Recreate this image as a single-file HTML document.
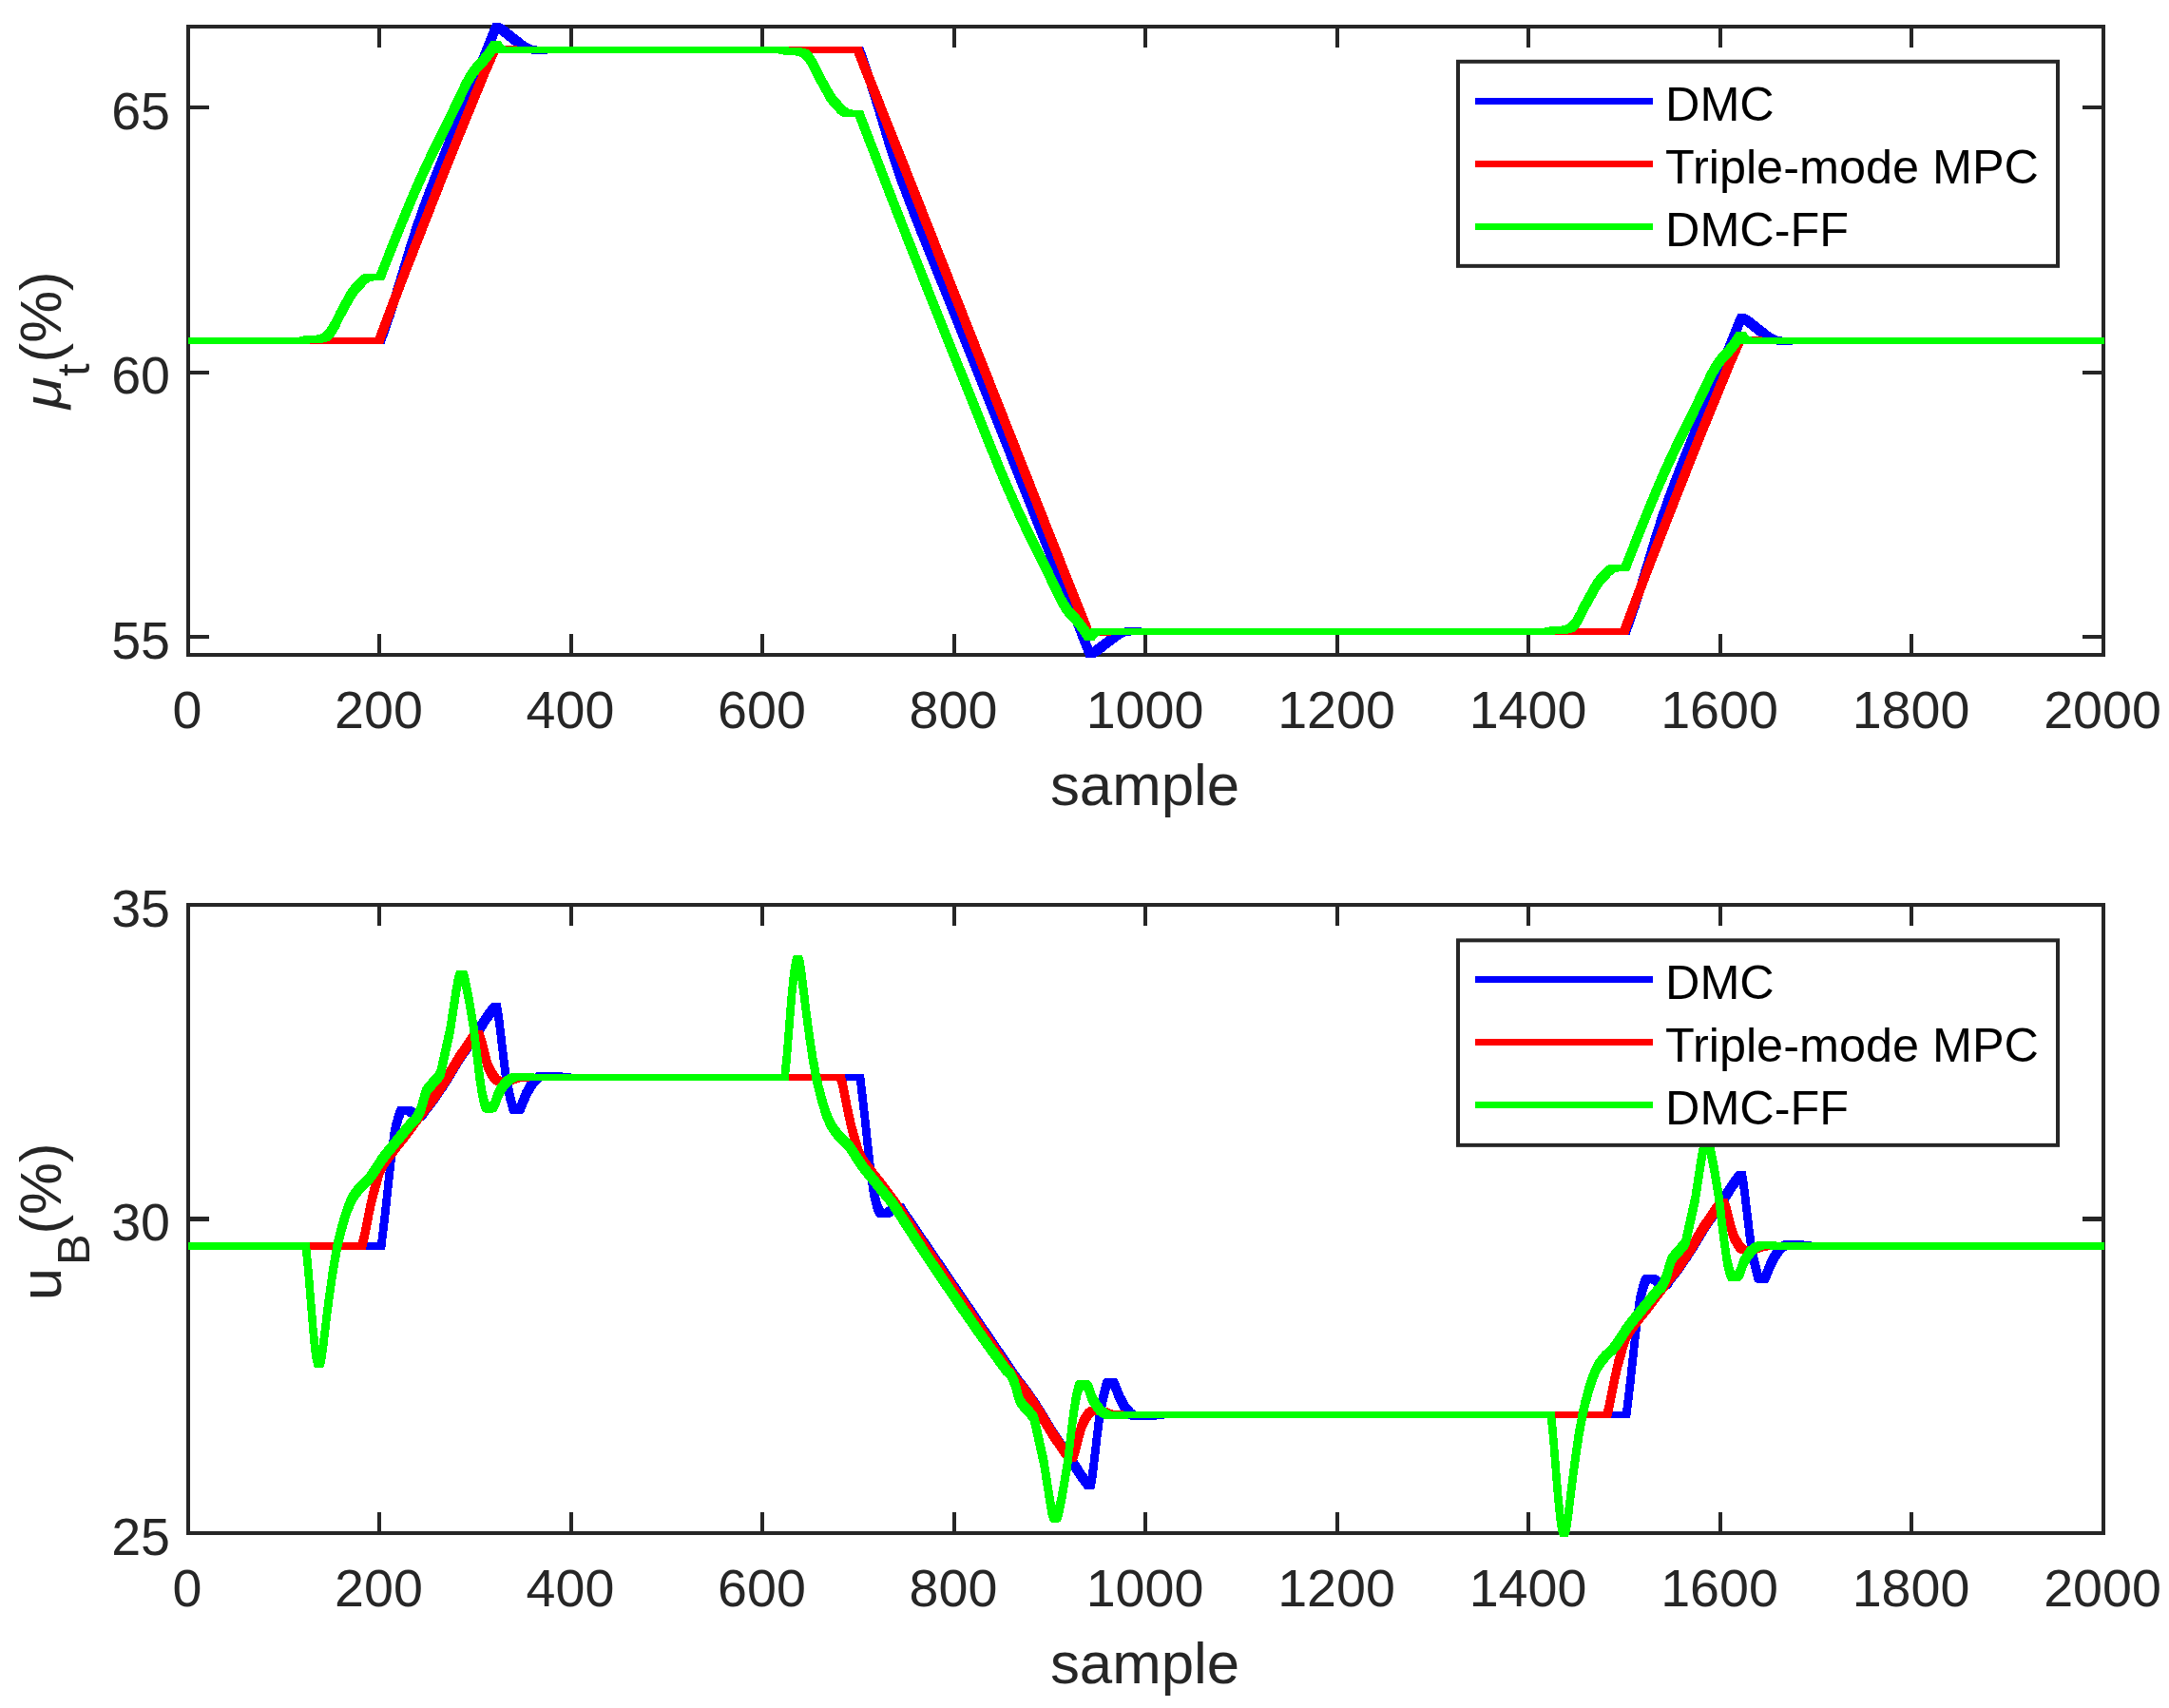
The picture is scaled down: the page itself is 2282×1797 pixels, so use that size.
<!DOCTYPE html>
<html lang="en"><head><meta charset="utf-8"><title>DMC vs Triple-mode MPC vs DMC-FF</title>
<style>html,body{margin:0;padding:0;background:#fff}body{width:2282px;height:1797px;overflow:hidden}svg{display:block}text{font-family:"Liberation Sans",sans-serif}</style></head><body>
<svg width="2282" height="1797" viewBox="0 0 2282 1797">
<rect width="2282" height="1797" fill="#fff"/>
<!-- top axes -->
<g stroke="#262626" stroke-width="4" fill="none" shape-rendering="crispEdges">
<rect x="198" y="28" width="2015" height="661"/>
<path d="M399,689 v-22 M399,28 v22"/>
<path d="M601,689 v-22 M601,28 v22"/>
<path d="M802,689 v-22 M802,28 v22"/>
<path d="M1004,689 v-22 M1004,28 v22"/>
<path d="M1205,689 v-22 M1205,28 v22"/>
<path d="M1407,689 v-22 M1407,28 v22"/>
<path d="M1608,689 v-22 M1608,28 v22"/>
<path d="M1810,689 v-22 M1810,28 v22"/>
<path d="M2011,689 v-22 M2011,28 v22"/>
<path d="M198,670 h22 M2213,670 h-22"/>
<path d="M198,392 h22 M2213,392 h-22"/>
<path d="M198,113 h22 M2213,113 h-22"/>
</g>
<g font-size="55.6" fill="#262626">
<g text-anchor="middle">
<text x="197.0" y="766">0</text>
<text x="398.5" y="766">200</text>
<text x="600.0" y="766">400</text>
<text x="801.5" y="766">600</text>
<text x="1003.0" y="766">800</text>
<text x="1204.5" y="766">1000</text>
<text x="1406.0" y="766">1200</text>
<text x="1607.5" y="766">1400</text>
<text x="1809.0" y="766">1600</text>
<text x="2010.5" y="766">1800</text>
<text x="2212.0" y="766">2000</text>
</g><g text-anchor="end">
<text x="179" y="692.5">55</text>
<text x="179" y="414.0">60</text>
<text x="179" y="135.5">65</text>
</g></g>
<text x="1204.5" y="847" font-size="61.8" fill="#262626" text-anchor="middle">sample</text>
<g transform="translate(64,0) rotate(-90)" fill="#262626">
<text transform="translate(-430.28,0) scale(1,0.87)" font-size="61.8" font-style="italic">μ</text>
<text x="-396.05" y="29.5" font-size="49">t</text>
<text x="-381.45" y="0" font-size="61.8">(%)</text>
</g>
<g shape-rendering="crispEdges">
<path fill="#0000ff" d="M198,354.6 396.2,354.6 401,341.7 406.8,324.9 414,301.8 429,252.2 435.5,232.4 442.2,213.4 453.5,183.8 465.5,153.6 518,24.3 518.2,24.1 526.2,24.1 526.8,24.3 530,26.1 533.2,28.2 551.2,42.4 556.8,46.1 558.5,47 560,47.6 567.2,48.8 569.2,48.6 908,48.6 913.5,63.7 919.2,80.7 926.2,103 938.5,143.8 945.2,164.8 952.5,185.7 960.8,207.7 972.5,237.7 1001.5,309.5 1063.8,465.4 1149.2,680.8 1151.2,679.5 1168,666.6 1174,662.7 1175.8,661.9 1177.5,661.4 1187.8,659.8 1196.8,659.8 1201.8,660.6 1706.2,660.6 1711,647.7 1716.8,630.9 1724,607.8 1739,558.2 1745.5,538.4 1752.2,519.4 1763.5,489.8 1775.5,459.6 1828,330.3 1828.2,330.1 1836.2,330.1 1836.8,330.3 1840,332.1 1843.2,334.2 1861.2,348.4 1866.8,352.1 1868.5,353 1870,353.6 1877.2,354.8 1879.2,354.6 2214,354.6 2214,362.4 1887.2,362.4 1882,363.2 1873,363.2 1863,361.6 1861.2,361.2 1859.5,360.3 1853.2,356.2 1834.8,341.7 1834.5,341.8 1783.5,467.4 1771.2,498.2 1760,527.8 1753.2,546.9 1746.8,566.8 1732,615.6 1724.8,638.7 1719,655.5 1714.2,668.4 1193.8,668.4 1192,668.2 1184.8,669.4 1183.2,669.9 1181.5,670.8 1175.8,674.6 1158,688.2 1154.8,690.3 1151.5,692.1 1150.8,692.4 1142.8,692.4 1056.8,475.7 993.5,317.3 964.5,245.5 952.8,215.5 944.5,193.5 937.2,172.6 930.5,151.6 918.2,110.8 911.2,88.5 905.5,71.5 900,56.4 577.2,56.4 572,57.2 563,57.2 553,55.6 551.2,55.2 549.5,54.3 543.2,50.2 524.8,35.7 524.5,35.8 473.5,161.4 461.2,192.2 450,221.8 443.2,240.9 436.8,260.8 422,309.6 414.8,332.7 409,349.5 404.2,362.4 198,362.4Z"/>
<path fill="#ff0000" d="M198,354.6 394.8,354.6 406.8,322.5 421.5,283.9 455.8,196.2 491,108.4 502.8,79.8 515.8,49 516,48.6 530.5,48.6 532.5,47.8 542.5,47.8 544.5,48.6 906.5,48.6 961.8,187.8 1112.5,569.8 1148.5,660.5 1148.8,660.6 1704.8,660.6 1716.8,628.5 1732.2,588 1767,499 1785.2,453.3 1803.8,407.7 1815.2,379.8 1826,354.6 1840.5,354.6 1842.5,353.8 1852.5,353.8 1854.5,354.6 2214,354.6 2214,362.4 1834,362.4 1823.2,387.6 1811.8,415.5 1793.2,461.1 1775,506.8 1740.2,595.8 1724.8,636.3 1712.8,668.4 1169.2,668.4 1168.8,668.4 1167,669.2 1157.2,669.2 1156.8,669.2 1155,668.4 1140.8,668.4 1140.5,668.3 1082.8,522.6 946.5,177.3 898.5,56.4 524,56.4 513.2,81.6 501.8,109.5 483.2,155.1 465,200.8 430.2,289.8 414.8,330.3 402.8,362.4 198,362.4Z"/>
<path fill="#00ff00" d="M198,354.6 315,354.6 317.2,353.8 318.8,353.5 330.2,352.9 334,352.4 336,351.9 338.2,351 339.5,350.3 340.8,349.2 343.8,345.7 346.2,341.7 348.8,337.2 353.5,327.5 362.5,311 366,304.9 368,302.2 376.5,292.6 377.8,291.3 380.2,289.3 381.2,288.7 383.5,288 385.8,287.6 396,287.6 407.8,257.7 420.5,226.1 428.8,206.3 437.2,186.8 450.5,158.1 471.2,116.3 485.8,85.8 490.2,77.5 494.8,70.7 497.8,66.9 502.8,61.9 507,56.8 511.8,50.5 517,42.6 526.5,42.6 527,43.1 528.2,45.4 530,47.5 531,48.1 532.8,48.6 826.8,48.6 829,49.4 830.5,49.7 842,50.3 845.8,50.8 847.8,51.3 850,52.2 851.2,52.9 852.5,54 855.5,57.5 858,61.5 860.5,66 865.2,75.7 874.2,92.2 877.8,98.3 879.8,101 888.2,110.6 889.5,111.9 892,113.9 893,114.5 895.2,115.2 897.5,115.6 907.8,115.6 946.2,215 988.2,321.5 1049.5,474.1 1058.5,496 1066.5,514.7 1074.8,533.2 1082.5,549.7 1089.5,564.1 1103.5,592 1117.5,621.6 1120.2,627 1124,633.5 1128,639.3 1130.5,642.4 1135,646.9 1137.5,649.7 1142.5,656.1 1146.5,661.8 1147.5,661.1 1149.5,660.6 1625,660.6 1627,659.8 1628.2,659.6 1641.2,658.8 1645.2,658.1 1647.8,657.2 1649.8,656.1 1651.5,654.5 1654,651.4 1658,644.6 1663.2,634 1675.8,611.3 1678,608.2 1687,598.1 1690.5,595.1 1691.5,594.6 1694,593.8 1695.8,593.6 1706,593.6 1717.8,563.7 1730.5,532.1 1738.8,512.3 1747.2,492.8 1760.5,464.1 1781.2,422.3 1795.8,391.8 1800.2,383.5 1804.8,376.7 1807.8,372.9 1812.8,367.9 1817,362.8 1821.8,356.5 1827,348.6 1836.5,348.6 1837,349.1 1838.2,351.4 1840,353.5 1841.2,354.2 1843,354.6 2214,354.6 2214,362.4 1835,362.4 1833.5,362.1 1832,361.3 1831.8,361.3 1828,366.7 1823,373.1 1820.5,376 1815.8,380.7 1812.8,384.5 1808.2,391.3 1803.5,400.1 1789.2,430.1 1768.5,471.9 1755.2,500.6 1746.8,520.1 1738.5,539.9 1725.8,571.5 1714,601.4 1703.8,601.4 1702,601.6 1699.5,602.4 1698.5,602.9 1695,605.9 1686,616 1683.8,619.1 1671.2,641.8 1666,652.4 1662,659.2 1659.5,662.3 1657.8,663.9 1655.8,665 1653.2,665.9 1649.2,666.6 1636.2,667.4 1635,667.6 1633,668.4 1157.5,668.4 1155.8,668.8 1154.8,669.4 1153,671.5 1151.8,673.7 1151.2,674.3 1141.8,674.4 1141.5,674.3 1136,666 1131,659.4 1127.2,654.9 1122.5,650.2 1120,647.1 1116.2,641.7 1112.8,635.7 1109.8,629.9 1095.2,599.3 1075.2,559.1 1067.5,542.6 1059.5,524.8 1051,505 1042.2,483.7 982,333.7 939.2,225.4 899.8,123.4 889.5,123.4 887.8,123.2 885.2,122.4 884.2,121.9 880.8,118.9 871.8,108.8 869.5,105.7 857,83 851.8,72.4 847.8,65.6 845.5,62.8 843.8,61.1 842.2,60.1 839.5,59 837.5,58.5 835.2,58.2 822,57.4 820.8,57.2 818.8,56.4 525,56.4 523.5,56.1 522,55.3 521.8,55.3 518,60.7 513,67.1 510.5,70 505.8,74.7 502.8,78.5 498.2,85.3 493.5,94.1 479.2,124.1 458.5,165.9 445.2,194.6 436.8,214.1 428.5,233.9 415.8,265.5 404,295.4 393.8,295.4 391.5,295.8 389.2,296.5 388.2,297.1 385.8,299.1 384.5,300.4 376,310 374,312.7 370.5,318.8 361.5,335.3 356.8,345 354.2,349.5 351.5,353.9 348.5,357.3 347.2,358.3 345.8,359 342,360.2 338.2,360.7 326.8,361.3 325.2,361.6 323,362.4 198,362.4Z"/>
</g>
<g>
<rect x="1534" y="64.8" width="631" height="215.05" fill="#fff" stroke="#262626" stroke-width="4"/>
<rect x="1552" y="103" width="187" height="7" fill="#0000ff" shape-rendering="crispEdges"/>
<text x="1752" y="127" font-size="50.4" fill="#000">DMC</text>
<rect x="1552" y="169" width="187" height="7" fill="#ff0000" shape-rendering="crispEdges"/>
<text x="1752" y="193" font-size="50.4" fill="#000">Triple-mode MPC</text>
<rect x="1552" y="235" width="187" height="7" fill="#00ff00" shape-rendering="crispEdges"/>
<text x="1752" y="259" font-size="50.4" fill="#000">DMC-FF</text>
</g>
<!-- bottom axes -->
<g stroke="#262626" stroke-width="4" fill="none" shape-rendering="crispEdges">
<rect x="198" y="952" width="2015" height="661"/>
<path d="M399,1613 v-22 M399,952 v22"/>
<path d="M601,1613 v-22 M601,952 v22"/>
<path d="M802,1613 v-22 M802,952 v22"/>
<path d="M1004,1613 v-22 M1004,952 v22"/>
<path d="M1205,1613 v-22 M1205,952 v22"/>
<path d="M1407,1613 v-22 M1407,952 v22"/>
<path d="M1608,1613 v-22 M1608,952 v22"/>
<path d="M1810,1613 v-22 M1810,952 v22"/>
<path d="M2011,1613 v-22 M2011,952 v22"/>
<path stroke-width="5" d="M198,1282.5 h22 M2213,1282.5 h-22"/>
</g>
<g font-size="55.6" fill="#262626">
<g text-anchor="middle">
<text x="197.0" y="1690">0</text>
<text x="398.5" y="1690">200</text>
<text x="600.0" y="1690">400</text>
<text x="801.5" y="1690">600</text>
<text x="1003.0" y="1690">800</text>
<text x="1204.5" y="1690">1000</text>
<text x="1406.0" y="1690">1200</text>
<text x="1607.5" y="1690">1400</text>
<text x="1809.0" y="1690">1600</text>
<text x="2010.5" y="1690">1800</text>
<text x="2212.0" y="1690">2000</text>
</g><g text-anchor="end">
<text x="179" y="1635.5">25</text>
<text x="179" y="1305.0">30</text>
<text x="179" y="974.5">35</text>
</g></g>
<text x="1204.5" y="1771" font-size="61.8" fill="#262626" text-anchor="middle">sample</text>
<g transform="translate(64,0) rotate(-90)" fill="#262626">
<text x="-1368.19" y="0" font-size="61.8">u</text>
<text x="-1331.01" y="29.5" font-size="49">B</text>
<text x="-1298.55" y="0" font-size="61.8">(%)</text>
</g>
<g shape-rendering="crispEdges">
<path fill="#0000ff" d="M198,1307.1 397,1307.1 397.2,1306.7 401.2,1273.2 406.8,1221.1 410.2,1193.5 411.2,1187.1 412.8,1180.3 415.2,1171.4 417.2,1166.1 418.5,1164.4 419.8,1163.5 432,1163.5 433,1163.8 434,1164.3 440.2,1168.8 442,1165.6 450,1155.4 461.2,1139.2 468,1128.5 478.2,1111.2 497,1084 509,1065.4 514,1058.5 516,1056.2 517.8,1054.6 525.8,1054.6 526.5,1054.9 526.8,1055.9 528,1062.2 529.2,1070.4 534,1111.1 536.2,1128.4 537.8,1136.8 540.2,1148.6 543.2,1160.5 543.5,1161.3 543.8,1161.4 546,1156.3 547.8,1151.4 549.5,1147.3 555,1137.5 557.5,1134.1 560,1131.6 564,1128.7 565.8,1127.9 587,1127.9 601.5,1129.6 908.8,1129.6 909,1130 913.2,1165.6 919,1220 922.2,1244.9 923.5,1252.1 925,1258.3 927.2,1266.1 929.2,1271.1 930,1272.1 930.2,1272 933.2,1269.9 938,1266.1 939,1265.6 949.5,1265.6 950.5,1266.1 951.5,1267.2 953.8,1271.1 1074.5,1448.4 1082.2,1458.2 1092.5,1472.9 1099.5,1483.8 1111.2,1503.5 1129.5,1530 1140,1546.3 1144.5,1552.9 1146,1543 1152,1492.2 1153.8,1480.8 1157,1465.1 1160,1453.4 1161,1450.9 1162,1450.2 1163.2,1449.7 1172.5,1449.7 1174.2,1449.9 1175,1450.5 1176.2,1452.5 1178.5,1457.5 1180.5,1463 1182.2,1467.1 1187.5,1476.5 1190,1479.9 1192.5,1482.5 1194.2,1483.9 1196.8,1485.6 1198.5,1486.3 1205,1486.2 1218,1484.6 1707,1484.6 1707.2,1484.2 1711.2,1450.7 1716.8,1398.6 1720.2,1371 1721.2,1364.6 1722.8,1357.8 1725.2,1348.9 1727.2,1343.6 1728.5,1341.9 1729.8,1341 1742,1341 1743,1341.3 1744,1341.8 1750.2,1346.3 1752,1343.1 1760,1332.9 1771.2,1316.7 1778,1306 1788.2,1288.7 1807,1261.5 1819,1242.9 1824,1236 1826,1233.7 1827.8,1232.1 1835.8,1232.1 1836.5,1232.4 1836.8,1233.4 1838,1239.7 1839.2,1247.9 1844,1288.6 1846.2,1305.9 1847.8,1314.3 1850.2,1326.1 1853.2,1338 1853.5,1338.8 1853.8,1338.9 1856,1333.8 1857.8,1328.9 1859.5,1324.8 1865,1315 1867.5,1311.6 1870,1309.1 1874,1306.2 1875.8,1305.4 1897,1305.4 1911.5,1307.1 2214,1307.1 2214,1314.9 1903.5,1314.9 1901,1314.7 1890.2,1313.3 1883.8,1313.2 1882,1314 1879.5,1315.6 1877.8,1317.1 1875.2,1319.7 1872.8,1323.1 1867.5,1332.6 1862.2,1345.6 1861.2,1347.7 1860.2,1349.2 1859.5,1349.6 1857.8,1349.8 1848.5,1349.8 1846.5,1348.8 1845.5,1346.6 1842.2,1333.9 1839,1318.1 1838,1312.1 1836.5,1300.5 1831.2,1255.7 1830.2,1248.9 1829.8,1246.8 1825.2,1253.3 1814.8,1269.7 1796.5,1296.2 1785.5,1314.6 1779,1324.8 1768,1340.7 1760,1350.9 1758.5,1353.7 1757.2,1355.4 1756.2,1356.2 1755.5,1356.4 1745.2,1356.4 1744.2,1355.9 1739.5,1352.1 1736.5,1350 1736.2,1349.9 1736,1350.2 1735.2,1351.4 1733.2,1356.7 1730.8,1365.6 1729.2,1372.4 1728.2,1378.8 1724.8,1406.4 1719.2,1458.5 1715.2,1492 1715,1492.4 1226,1492.4 1211.8,1494.1 1190.5,1494.1 1188.8,1493.4 1186.2,1491.7 1184.5,1490.3 1182,1487.7 1179.5,1484.3 1174.2,1474.9 1172.5,1470.8 1170.5,1465.3 1168.2,1460.4 1164.8,1474 1162.5,1484.7 1161,1493 1158.8,1510.1 1153.8,1552.7 1152.8,1559.2 1151.5,1565.7 1151,1567.2 1150.5,1567.3 1142.5,1567.3 1142.2,1567.3 1141,1566.1 1139,1563.9 1133.8,1556.8 1121.5,1537.8 1103,1510.9 1091.5,1491.6 1084.5,1480.7 1074.2,1466 1066.5,1456.2 945.8,1278.9 944,1275.7 937.8,1280.2 936.8,1280.7 935.8,1281 923.5,1281 922.5,1280.4 921.2,1278.9 919.2,1273.9 917,1266.1 915.5,1259.9 914.2,1252.7 911,1227.8 905.2,1173.4 901,1137.8 900.8,1137.4 593.5,1137.4 591,1137.2 580.2,1135.8 573.8,1135.7 572,1136.5 569.5,1138.1 567.8,1139.6 565.2,1142.2 562.8,1145.6 557.5,1155.1 552.2,1168.1 551.2,1170.2 550.2,1171.7 549.5,1172.1 547.8,1172.3 538.5,1172.3 536.5,1171.3 535.5,1169.1 532.2,1156.4 529,1140.6 528,1134.6 526.5,1123 521.2,1078.2 520.2,1071.4 519.8,1069.3 515.2,1075.8 504.8,1092.2 486.5,1118.7 475.5,1137.1 469,1147.3 458,1163.2 450,1173.4 448.5,1176.2 447.2,1177.9 446.2,1178.7 445.5,1178.9 435.2,1178.9 434.2,1178.4 429.5,1174.6 426.5,1172.5 426.2,1172.4 426,1172.7 425.2,1173.9 423.2,1179.2 420.8,1188.1 419.2,1194.9 418.2,1201.3 414.8,1228.9 409.2,1281 405.2,1314.5 405,1314.9 198,1314.9Z"/>
<path fill="#ff0000" d="M198,1307.1 376.5,1307.1 376.8,1306.9 379.2,1297.5 384.5,1270.7 388.2,1254 395,1229.9 396,1227.1 398.2,1222.6 400.2,1219.2 402.8,1215.7 411.5,1204.2 420.8,1192.5 438.2,1169 442.2,1163.9 448,1157.1 451.5,1152.4 462.8,1135.9 469.8,1124.6 477.8,1111 491.5,1090.7 494.2,1087.2 496,1085.4 497.8,1084.3 499.5,1083.7 507.5,1083.7 509,1087.3 510.8,1092.6 516.2,1114 518,1119.1 520.2,1123.8 523.5,1129.1 525.5,1131.5 527.2,1133 528.2,1133.6 532.5,1132.9 537,1131.2 538.8,1130.7 544,1130 551.5,1129.6 888.2,1129.6 888.5,1129.8 891,1139.2 896.2,1166 900.2,1183.7 907,1207.6 908.5,1211.2 911,1215.9 914.2,1220.7 923.2,1232.5 932.5,1244.2 946.5,1263.1 1067.2,1440.4 1074,1449.2 1081.8,1458.5 1091.2,1472.1 1099,1484 1110.8,1503.7 1123.5,1522.6 1126,1525.9 1128,1519.5 1133,1499.9 1135,1494.3 1137.5,1489.3 1140.8,1484.3 1142,1482.8 1143.8,1481.3 1144.8,1480.6 1145.5,1480.4 1155.8,1480.4 1161.5,1480.7 1165.2,1481.3 1169.8,1483.1 1171.5,1483.5 1176.8,1484.2 1184.2,1484.6 1686.5,1484.6 1686.8,1484.4 1687.5,1482 1689.2,1475 1694.5,1448.2 1698.2,1431.5 1705,1407.4 1706,1404.6 1708.2,1400.1 1710.2,1396.7 1712.8,1393.2 1721.5,1381.7 1730.8,1370 1748.2,1346.5 1752.2,1341.4 1758,1334.6 1761.5,1329.9 1772.8,1313.4 1779.8,1302.1 1787.8,1288.5 1801.5,1268.2 1804.2,1264.7 1806,1262.9 1807.5,1261.9 1809.2,1261.2 1817.5,1261.2 1819,1264.8 1820.8,1270.1 1826.2,1291.5 1828,1296.6 1830.2,1301.3 1833.5,1306.6 1835.5,1309 1837.2,1310.5 1838.2,1311.1 1842.5,1310.4 1847,1308.7 1848.8,1308.2 1854,1307.5 1861.5,1307.1 2214,1307.1 2214,1314.9 1869.5,1314.9 1862,1315.3 1856.8,1316 1855,1316.5 1850.5,1318.2 1846.8,1318.8 1841,1319.1 1830.8,1319.1 1830,1318.8 1829,1318.1 1827.2,1316.6 1826,1315.1 1822.8,1310 1820.2,1305 1818.5,1300.1 1813,1278.8 1811.5,1274 1811.2,1273.7 1808.8,1277 1796.5,1295.2 1782,1319.2 1769.2,1338 1766,1342.4 1760.2,1349.2 1756.2,1354.3 1738.8,1377.8 1729.5,1389.5 1720.8,1401 1718,1404.9 1715.8,1408.8 1714,1412.4 1713,1415.2 1706.2,1439.3 1702.5,1456 1697.2,1482.8 1695.5,1489.8 1694.8,1492.2 1694.5,1492.4 1176.2,1492.4 1168.8,1492 1163.5,1491.3 1161.8,1490.9 1157.2,1489.1 1152.8,1488.4 1150,1490.6 1148.2,1492.7 1145,1498 1142.8,1502.7 1141.8,1505.3 1140.8,1508.6 1135.2,1529.9 1133.8,1534.4 1132.2,1538.1 1132,1538.3 1124,1538.3 1122,1537.5 1120.5,1536.4 1117.5,1533.1 1115.8,1530.8 1102.5,1511.1 1091,1491.8 1083.5,1480.3 1073.8,1466.3 1066,1457 1059.2,1448.2 938.5,1270.9 924.5,1252 915.2,1240.3 906.2,1228.5 903,1223.7 900.5,1219 899,1215.4 892.5,1192.4 888.5,1175 883,1147 881.2,1140 880.5,1137.6 880.2,1137.4 559.5,1137.4 552,1137.8 546.8,1138.5 545,1139 540.5,1140.7 536.8,1141.3 531,1141.6 520.8,1141.6 520,1141.3 519,1140.6 517.2,1139.1 516,1137.6 512.8,1132.5 510.2,1127.5 508.5,1122.6 503,1101.3 501.5,1096.5 501.2,1096.2 498.8,1099.5 486.5,1117.7 472,1141.7 459.2,1160.5 456,1164.9 450.2,1171.7 446.2,1176.8 428.8,1200.3 419.5,1212 410.8,1223.5 408,1227.4 405.8,1231.3 404,1234.9 403,1237.7 396,1262.8 392.5,1278.5 387.2,1305.3 384.8,1314.7 384.5,1314.9 198,1314.9Z"/>
<path fill="#00ff00" d="M198,1307.1 325.8,1307.1 328,1328.7 333.5,1396.5 335.5,1415.2 336.8,1406.2 340,1378.9 342.8,1357.6 346,1335 347.8,1324.1 349.2,1316.9 351,1306.6 353.8,1294.8 358,1279.2 361.5,1268.7 364,1262.4 366,1258.1 368.2,1254.2 370.8,1250.6 375.2,1245.2 381.8,1239 384.5,1236 388.5,1230.5 397.2,1216.9 401,1211.7 419.8,1188.7 430.2,1176.1 431,1175.2 432,1174.9 432.8,1174.3 434,1172.9 436.2,1168.9 439,1162.7 442.8,1149.1 444.5,1144.2 446.5,1141.2 457.2,1129 459,1126.3 459.5,1125.1 460.2,1122.3 469.5,1080.4 475.2,1043.3 477.8,1028.7 478.5,1025.8 479.5,1022.9 480.2,1021.5 481,1020.8 481.5,1020.5 490,1020.6 491,1021.4 491.5,1022.3 493.2,1027.5 497.2,1047.1 502.2,1076.7 507.8,1123.2 510.5,1142.2 511.5,1147.6 513,1154.2 514,1157.6 515,1160 515.5,1159.5 516.8,1157.3 519.5,1149.1 521,1145.8 523.5,1141.5 527,1136.5 529.5,1133.8 532.8,1131.3 534.5,1130.3 536.8,1129.4 539.5,1128.6 557.2,1128.7 563,1129.6 821.5,1129.6 823.8,1108 828.2,1051.7 830.5,1028 831.8,1017.7 833,1010.6 833.8,1007.9 834.5,1006.1 835,1005.6 835.8,1005.3 843.8,1005.3 845,1008.7 845.8,1011.4 848,1026.6 852,1059.8 854.8,1080.9 859.2,1111.1 861,1119.8 862.5,1128.8 865.8,1142.9 869.8,1157.5 873.2,1168 877,1177.1 880,1182.5 884,1188 887.5,1192 894.5,1198.7 897.8,1202.6 901,1207.3 908.8,1219.5 912.5,1224.6 931.5,1248 942.8,1261.5 960.8,1289.5 977.5,1315.1 995,1341.1 1017.2,1373.7 1036.2,1401 1056.5,1429.2 1063.8,1439.1 1064.8,1439.4 1065.8,1440.2 1067.8,1443.1 1069.5,1446.6 1071.8,1451.8 1075.2,1464.6 1076.2,1467.8 1077.2,1470.2 1079.5,1473.5 1090.2,1485.6 1091.5,1487.6 1092.2,1489.4 1102.2,1534.3 1107.8,1569.9 1110.2,1584.7 1111.8,1578.2 1113.8,1567.9 1118.8,1538.5 1119.8,1531.2 1125,1486.4 1127.5,1470 1129.5,1460.6 1131,1455.7 1132.2,1452.9 1133,1452 1135,1451.5 1143.2,1451.5 1145,1451.7 1146,1452.1 1147,1453.1 1148.5,1455.2 1149.5,1457.1 1152.2,1465.3 1153.8,1468.6 1156.8,1473.7 1160.5,1478.7 1162.5,1480.8 1165.8,1483.1 1169.5,1484.9 1172,1485.5 1174.5,1485.4 1179.8,1484.6 1635.8,1484.6 1638,1506.2 1643.5,1574 1645.5,1592.7 1646.8,1583.7 1650,1556.4 1652.8,1535.1 1656,1512.5 1657.8,1501.6 1659.2,1494.4 1661,1484.1 1663.8,1472.3 1668,1456.7 1671.5,1446.2 1674,1439.9 1676,1435.6 1678.2,1431.7 1680.8,1428.1 1685.2,1422.7 1691.8,1416.5 1694.5,1413.5 1698.5,1408 1707.2,1394.4 1711,1389.2 1729.8,1366.2 1740.2,1353.6 1741,1352.7 1742,1352.4 1742.8,1351.8 1744,1350.4 1746.2,1346.4 1749,1340.2 1752.8,1326.6 1754.5,1321.7 1756.5,1318.7 1767.2,1306.5 1769,1303.8 1769.5,1302.6 1770.2,1299.8 1779.5,1257.9 1785.2,1220.8 1787.8,1206.2 1788.5,1203.3 1789.8,1199.8 1790.5,1198.7 1791.5,1198 1799.5,1198 1800.2,1198.2 1801,1198.9 1801.8,1200.4 1803.5,1206.1 1807.5,1226 1812.2,1254.2 1817.8,1300.7 1820.2,1318.2 1821.2,1323.9 1822.8,1330.7 1823.8,1334.3 1825,1337.5 1825.5,1337 1826.8,1334.8 1829.5,1326.6 1831,1323.3 1833.5,1319 1837,1314 1839.5,1311.3 1843,1308.6 1847,1306.8 1849.8,1306.1 1867.2,1306.2 1873,1307.1 2214,1307.1 2214,1314.9 1865,1314.9 1859.8,1314.1 1857.2,1314 1854,1315 1850.5,1316.7 1847.2,1319.3 1844.8,1322.1 1841.8,1326.4 1839.2,1330.7 1837.5,1334.4 1834.5,1343.2 1833,1345.6 1831.8,1347.1 1830.8,1347.7 1829,1348 1820.5,1348 1819.2,1347.8 1818.2,1347.5 1817.8,1346.8 1816,1342.9 1814.5,1337.4 1812.8,1329 1809.8,1308.5 1804.2,1262 1799.8,1235.2 1795.8,1215 1795.5,1215.3 1795.2,1216.6 1793.2,1228.6 1787.5,1265.7 1778.2,1307.6 1777.5,1310.4 1777,1311.6 1775.2,1314.3 1764.5,1326.5 1762.5,1329.5 1760.8,1334.4 1757,1348 1754.2,1354.2 1752,1358.2 1750.8,1359.6 1750,1360.2 1749,1360.5 1748.2,1361.4 1737.8,1374 1719,1397 1715.2,1402.2 1706.5,1415.8 1702.5,1421.3 1699.8,1424.3 1693.2,1430.5 1689,1435.6 1686.5,1439.1 1684.2,1442.9 1682.2,1447.2 1679.8,1453.3 1676,1464.5 1671.8,1480.1 1669,1491.9 1667.2,1502.2 1665.8,1509.4 1661,1541.1 1658.2,1562.2 1654.2,1595.4 1652,1610.6 1651.2,1613.3 1650,1616.7 1642,1616.7 1641.2,1616.4 1640.8,1615.9 1640,1614.1 1639.2,1611.4 1638,1604.3 1636.8,1594 1634.5,1570.3 1630,1514 1627.8,1492.4 1187.8,1492.4 1181.8,1493.3 1164.5,1493.4 1161.8,1492.7 1159.2,1491.7 1157.5,1490.8 1154.2,1488.3 1151.5,1485.3 1148,1480.3 1145.5,1475.9 1144,1472.5 1141.5,1464.9 1139.8,1461.9 1138.5,1464.9 1137.5,1468.4 1136,1475.1 1135,1480.7 1132.2,1500 1127,1544.6 1122.2,1573 1120.2,1583.5 1118,1594.1 1116.2,1599.5 1115.8,1600.5 1114.8,1601.3 1114.2,1601.5 1106.2,1601.5 1105.8,1601.3 1104.8,1600.3 1104,1598.7 1103,1595.7 1102.2,1592.5 1099.8,1577.7 1094.2,1542.1 1084.2,1497.2 1083.5,1495.4 1082.2,1493.4 1071.5,1481.3 1069.2,1478 1068.2,1475.6 1067.2,1472.4 1063.8,1459.6 1061.5,1454.4 1059.8,1450.9 1057.8,1448 1056.8,1447.2 1055.8,1446.9 1048.5,1437 1028.2,1408.8 1009.2,1381.5 987,1348.9 969.5,1322.9 952.8,1297.3 934.8,1269.3 923.5,1255.8 904.5,1232.4 900.8,1227.3 893,1215.1 889.8,1210.4 886.5,1206.5 879.5,1199.8 876,1195.8 872,1190.3 869,1184.9 865.2,1175.8 861.8,1165.3 857.8,1150.7 854.5,1136.6 853,1127.6 851.2,1118.9 846.8,1088.7 839.2,1029.3 837.2,1048 831.8,1115.8 829.5,1137.4 555,1137.4 549.8,1136.6 547.2,1136.5 544.8,1137.2 541,1138.9 537.8,1141.3 535.8,1143.4 532,1148.5 529,1153.6 527.5,1156.9 525.2,1163.8 524,1166.5 522.5,1168.7 521.5,1169.8 520.8,1170.2 518.8,1170.5 510.2,1170.5 508.2,1170 507.5,1168.9 506.2,1166 504.8,1161 502.8,1151.5 500.5,1136.7 494.2,1084.5 489.8,1057.7 485.8,1037.5 485.5,1037.8 485.2,1039.1 483.2,1051.1 477.5,1088.2 468.2,1130.1 467.5,1132.9 467,1134.1 465.2,1136.8 454.5,1149 452.5,1152 450.8,1156.9 447,1170.5 444.2,1176.7 442.2,1180.3 440.8,1182.1 440,1182.7 439,1183 437.8,1184.5 427.8,1196.5 409,1219.5 405.2,1224.7 396.5,1238.3 392.5,1243.8 389.8,1246.8 383.2,1253 378.8,1258.4 376.2,1262 374,1265.9 371.8,1270.8 369.2,1277.2 365.8,1287.8 361.8,1302.6 359.2,1313.2 357.2,1324.7 356,1330.5 354,1342.8 351,1363.6 348.2,1384.7 344.5,1416 342.5,1430.2 341.5,1435 340,1439.2 332,1439.2 331.2,1438.9 330.8,1438.4 330,1436.6 328.8,1431.5 327.5,1423 325.8,1407 320,1336.5 317.8,1314.9 198,1314.9Z"/>
</g>
<g>
<rect x="1534" y="989.35" width="631" height="215.5" fill="#fff" stroke="#262626" stroke-width="4"/>
<rect x="1552" y="1027" width="187" height="7" fill="#0000ff" shape-rendering="crispEdges"/>
<text x="1752" y="1051" font-size="50.4" fill="#000">DMC</text>
<rect x="1552" y="1093" width="187" height="7" fill="#ff0000" shape-rendering="crispEdges"/>
<text x="1752" y="1117" font-size="50.4" fill="#000">Triple-mode MPC</text>
<rect x="1552" y="1159" width="187" height="7" fill="#00ff00" shape-rendering="crispEdges"/>
<text x="1752" y="1183" font-size="50.4" fill="#000">DMC-FF</text>
</g>
</svg></body></html>
